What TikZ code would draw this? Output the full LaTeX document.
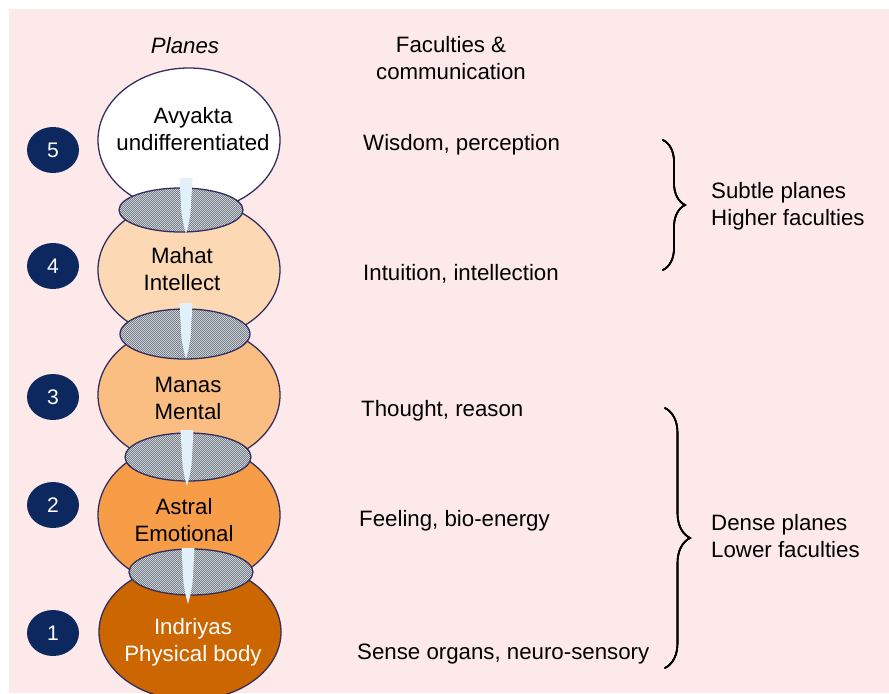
\documentclass[tikz,border=0pt]{standalone}
\usepackage{fontspec}
\setmainfont{Liberation Sans}
\usetikzlibrary{shapes.geometric, patterns, decorations.pathreplacing}

\definecolor{bgpink}{RGB}{253,233,233}
\definecolor{navy}{RGB}{12,40,95}
\definecolor{rim}{RGB}{50,45,95}
\definecolor{plfour}{RGB}{252,217,180}
\definecolor{plthree}{RGB}{250,190,130}
\definecolor{pltwo}{RGB}{247,157,72}
\definecolor{plone}{RGB}{204,102,0}
\definecolor{gatedark}{RGB}{105,113,124}
\definecolor{gatelight}{RGB}{205,210,216}
\definecolor{needlec}{RGB}{226,240,250}

\pgfdeclarepatternformonly{checks}{\pgfpointorigin}{\pgfpoint{2pt}{2pt}}{\pgfpoint{2pt}{2pt}}{%
	\pgfpathrectangle{\pgfpointorigin}{\pgfpoint{1pt}{1pt}}%
	\pgfpathrectangle{\pgfpoint{1pt}{1pt}}{\pgfpoint{1pt}{1pt}}%
	\pgfusepath{fill}}

\tikzset{
	txt/.style={font=\fontsize{19}{23}\selectfont, inner sep=0pt},
	plane/.style={draw=rim, ellipse, line width=1.1pt, minimum width=5.46cm, minimum height=4.2cm, inner sep=0pt},
	gatebox/.style={draw=rim, ellipse, line width=1.1pt, inner sep=0pt, preaction={fill=gatedark}, pattern=checks, pattern color=gatelight},
	num/.style={ellipse, fill=navy, text=white, minimum width=1.56cm, minimum height=1.38cm, inner sep=0pt, font=\fontsize{18}{20}\selectfont},
	curly/.style={decorate, decoration={brace, amplitude=#1}, line width=1.4pt, line cap=round}
}

% white tapering needle: x, top
\newcommand\needle[2]{%
	\fill[needlec] ({#1-6.5},#2) -- ({#1-4.5},{#2+35}) .. controls ({#1-2.5},{#2+47}) .. (#1,{#2+56})
		.. controls ({#1+2.5},{#2+47}) .. ({#1+4.5},{#2+35}) -- ({#1+6.5},#2) -- cycle;}

\begin{document}
\begin{tikzpicture}[x=0.03cm, y=-0.03cm]
			\useasboundingbox (0,0) rectangle (889,693);
			\clip (0,0) rectangle (889,693);
			\fill[bgpink] (9,9) rectangle (889,693);

			% planes, top to bottom
			\node	(p5) at (189,140) [plane, fill=white, minimum height=4.32cm] {};
			\node	(p4) at (189,270) [plane, fill=plfour] {};
			\node	(p3) at (189,395) [plane, fill=plthree] {};
			\node	(p2) at (189,515) [plane, fill=pltwo, minimum height=4.32cm] {};
			\node	(p1) at (190,632) [plane, fill=plone, minimum height=4.08cm] {};

			% gates between planes
			\node	(g4) at (181,210) [gatebox, minimum width=3.72cm, minimum height=1.32cm] {};
			\node	(g3) at (185,334) [gatebox, minimum width=3.9cm, minimum height=1.5cm] {};
			\node	(g2) at (188,457) [gatebox, minimum width=3.78cm, minimum height=1.44cm] {};
			\node	(g1) at (191,572) [gatebox, minimum width=3.72cm, minimum height=1.38cm] {};

			\needle{186}{178}
			\needle{186}{303}
			\needle{187}{430}
			\needle{188}{548}

			% plane names
			\node	(t5) at (193,129) [txt, align=center] {Avyakta\\undifferentiated};
			\node	(t4) at (182,269) [txt, align=center] {Mahat\\Intellect};
			\node	(t3) at (188,398) [txt, align=center] {Manas\\Mental};
			\node	(t2) at (184,520) [txt, align=center] {Astral\\Emotional};
			\node	(t1) at (193,642) [txt, align=center, text=white] {Indriyas\\Physical body};

			% numbers
			\node	(n5) at (53,150) [num] {5};
			\node	(n4) at (53,266) [num] {4};
			\node	(n3) at (53,397) [num] {3};
			\node	(n2) at (53,505) [num] {2};
			\node	(n1) at (53,633) [num] {1};

			% headings
			\node	(hp) at (185,46) [txt] {\itshape Planes};
			\node	(hf) at (451,58) [txt, align=center] {Faculties \&\\communication};

			% faculties
			\node	(f5) at (363,145) [txt, anchor=west] {Wisdom, perception};
			\node	(f4) at (363,274) [txt, anchor=west] {Intuition, intellection};
			\node	(f3) at (361,411) [txt, anchor=west] {Thought, reason};
			\node	(f2) at (359,521) [txt, anchor=west] {Feeling, bio-energy};
			\node	(f1) at (357,654) [txt, anchor=west] {Sense organs, neuro-sensory};

			% groups
			\coordinate (ua) at (663,140);
			\coordinate (ub) at (663,270);
			\coordinate (la) at (665,408);
			\coordinate (lb) at (665,668);
			\foreach \s in {0pt,1pt,2pt}{
				\draw[curly=0.66cm, xshift=\s] (ua) -- (ub);
				\draw[curly=0.75cm, xshift=\s] (la) -- (lb);
			}
			\node	(su) at (711,206) [txt, align=left, anchor=west] {Subtle planes\\Higher faculties};
			\node	(de) at (711,536) [txt, align=left, anchor=west] {Dense planes\\Lower faculties};
		\end{tikzpicture}
\end{document}
